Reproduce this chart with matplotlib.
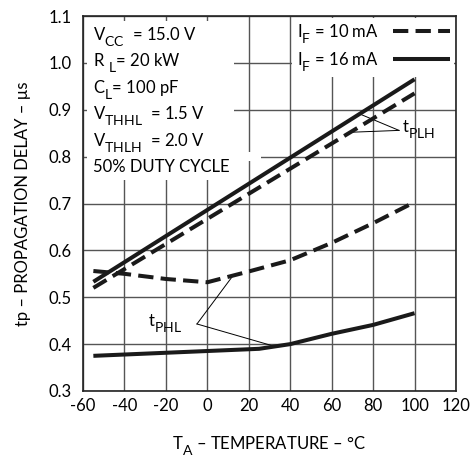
import numpy as np
import matplotlib
matplotlib.use('Agg')
from matplotlib import pyplot as plt
from matplotlib.lines import Line2D
from matplotlib.patches import Rectangle
import matplotlib._mathtext as mt

plt.rcParams['font.family'] = ['Lato', 'DejaVu Sans']
plt.rcParams['mathtext.fontset'] = 'custom'
plt.rcParams['mathtext.rm'] = 'Lato'
plt.rcParams['axes.unicode_minus'] = False
plt.rcParams['font.size'] = 12
# bigger, lower subscripts (datasheet style)
mt.SHRINK_FACTOR = 0.84
mt.FontConstantsBase.sub1 = 0.6

# tPLH curves (straight)
temp_plh = [-55, 100]
plh_16ma = [0.533, 0.965]
plh_10ma = [0.520, 0.935]

# tPHL curves
temp_phl10 = [-55, -40, -20, 0, 20, 40, 60, 80, 100]
phl_10ma = [0.556, 0.550, 0.539, 0.532, 0.555, 0.579, 0.616, 0.658, 0.703]
temp_phl16 = [-55, 25, 40, 60, 80, 100]
phl_16ma = [0.375, 0.390, 0.400, 0.422, 0.441, 0.466]

x_ticks = [-60, -40, -20, 0, 20, 40, 60, 80, 100, 120]
y_ticks = [0.3, 0.4, 0.5, 0.6, 0.7, 0.8, 0.9, 1.0, 1.1]

cond_lines = [r'V$_{\mathrm{CC}}$  = 15.0 V',
              r'R$_{\mathrm{\ L}}$= 20 kW',
              r'C$_{\mathrm{L}}$= 100 pF',
              r'V$_{\mathrm{THHL}}$  = 1.5 V',
              r'V$_{\mathrm{THLH}}$  = 2.0 V',
              '50% DUTY CYCLE']

fig = plt.figure(figsize=(4.70, 4.58), dpi=100)
ax = fig.add_axes([0.1766, 0.1463, 0.7936, 0.8187])
ax.set_xlim(-60, 120)
ax.set_ylim(0.3, 1.1)
ax.set_xticks(x_ticks)
ax.set_yticks(y_ticks)
ax.set_xticklabels([str(t) for t in x_ticks])
ax.set_yticklabels(['%.1f' % t for t in y_ticks])
ax.tick_params(length=0, labelsize=12)
ax.tick_params(axis='x', pad=5)
ax.tick_params(axis='y', pad=8)
ax.set_axisbelow(True)
ax.grid(True, color='#555555', linewidth=1.0)
for s in ax.spines.values():
    s.set_linewidth(1.2)
    s.set_color('#222222')

lw = 2.9
dash = (3.8, 1.8)
ax.plot(temp_plh, plh_16ma, color='#1a1a1a', lw=lw, solid_capstyle='butt', zorder=3)
ax.plot(temp_plh, plh_10ma, color='#1a1a1a', lw=lw, dashes=dash, zorder=3)
ax.plot(temp_phl10, phl_10ma, color='#1a1a1a', lw=lw, dashes=dash, zorder=3)
ax.plot(temp_phl16, phl_16ma, color='#1a1a1a', lw=lw, solid_capstyle='butt', zorder=3)

# white block behind the test conditions
ax.add_patch(Rectangle((-58, 0.75), 71, 0.34, facecolor='white', edgecolor='none', zorder=1))
ax.add_patch(Rectangle((13, 0.79), 13, 0.02, facecolor='white', edgecolor='none', zorder=1))
y0 = 1.049
for i, s in enumerate(cond_lines):
    ax.text(-55.3, y0 - i * 0.0565, s, fontsize=12, va='baseline', ha='left', zorder=4)

# t_PLH label with leaders
lx, ly = 92.5, 0.856
ax.text(lx + 1.5, ly - 0.004, r't$_{\mathrm{PLH}}$', fontsize=12, va='baseline', ha='left', zorder=4)
for xs, ys in [(73.5, (temp_plh, plh_16ma)), (69, (temp_plh, plh_10ma))]:
    ax.plot([lx, xs], [ly, np.interp(xs, *ys)], color='black', lw=0.7, zorder=2)

# t_PHL label with leaders
px, py = -5, 0.443
ax.text(-28.6, 0.439, r't$_{\mathrm{PHL}}$', fontsize=12, va='baseline', ha='left', zorder=4)
for xs, ys in [(12.4, (temp_phl10, phl_10ma)), (32.6, (temp_phl16, phl_16ma))]:
    ax.plot([px, xs], [py, np.interp(xs, *ys)], color='black', lw=0.7, zorder=2)

handles = [Line2D([], [], color='#1a1a1a', lw=lw, dashes=dash),
           Line2D([], [], color='#1a1a1a', lw=lw, solid_capstyle='butt')]
leg = ax.legend(handles, [r'I$_{\mathrm{F}}$ = 10 mA', r'I$_{\mathrm{F}}$ = 16 mA'],
                loc='upper right', markerfirst=False, frameon=True, fancybox=False,
                framealpha=1, edgecolor='none', handlelength=3.4, handletextpad=0.9,
                borderaxespad=0.1, borderpad=0.25, labelspacing=0.3, fontsize=12)
leg.set_zorder(1.5)

ax.set_ylabel('tp – PROPAGATION DELAY – µs', fontsize=12)
ax.yaxis.set_label_coords(-0.139, 0.5)
ax.set_xlabel(r'T$_{\mathrm{A}}$ – TEMPERATURE – °C', fontsize=12)
ax.xaxis.set_label_coords(0.5, -0.114)

plt.savefig('out.png', dpi=100)
plt.close('all')
